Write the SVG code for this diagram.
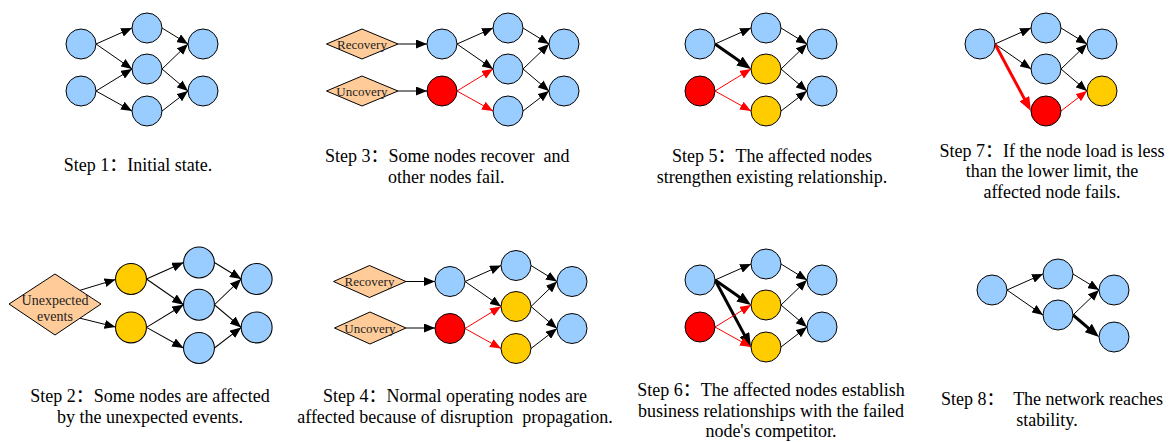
<svg xmlns="http://www.w3.org/2000/svg" width="1172" height="442" viewBox="0 0 1172 442">
<defs>
<style>
.b{fill:#99CCFF;stroke:#000;stroke-width:1}
.y{fill:#FFCC00;stroke:#000;stroke-width:1}
.r{fill:#FF0000;stroke:#000;stroke-width:1}
.d{fill:#FFCC99;stroke:#000;stroke-width:1}
.e{stroke:#000;stroke-width:1;fill:none;marker-end:url(#ah)}
.er{stroke:#FF0000;stroke-width:1;fill:none;marker-end:url(#ahr)}
.et{stroke:#000;stroke-width:3;fill:none;marker-end:url(#aht)}
.etr{stroke:#FF0000;stroke-width:3;fill:none;marker-end:url(#ahtr)}
.cap{font-family:'Liberation Serif','Times New Roman',Tinos,'Noto Serif','DejaVu Serif',serif;font-size:18px;fill:#000;white-space:pre}
.mid{text-anchor:middle}
.cj{font-family:'Noto Sans CJK SC','Noto Sans CJK JP',sans-serif}
.dl{font-family:'Liberation Serif','Times New Roman',Tinos,'Noto Serif','DejaVu Serif',serif;font-size:13px;fill:#222;text-anchor:middle}
</style>
<marker id="ah" viewBox="0 0 11 9" refX="11" refY="4.5" markerWidth="11" markerHeight="9" markerUnits="userSpaceOnUse" orient="auto"><path d="M0,0L11,4.5L0,9z" fill="#000"/></marker>
<marker id="ahr" viewBox="0 0 11 9" refX="11" refY="4.5" markerWidth="11" markerHeight="9" markerUnits="userSpaceOnUse" orient="auto"><path d="M0,0L11,4.5L0,9z" fill="#FF0000"/></marker>
<marker id="aht" viewBox="0 0 14 11" refX="9" refY="5.5" markerWidth="14" markerHeight="11" markerUnits="userSpaceOnUse" orient="auto"><path d="M0,0L14,5.5L0,11z" fill="#000"/></marker>
<marker id="ahtr" viewBox="0 0 14 11" refX="9" refY="5.5" markerWidth="14" markerHeight="11" markerUnits="userSpaceOnUse" orient="auto"><path d="M0,0L14,5.5L0,11z" fill="#FF0000"/></marker>
</defs>
<rect width="1172" height="442" fill="#fff"/>

<g id="connectors">
 <g id="c-step1" transform="translate(81,44)">
  <path class="e" d="M15,0L51,-16"/><path class="e" d="M15,0L51,25"/>
  <path class="e" d="M15,47L51,25"/><path class="e" d="M15,47L51,67"/>
  <path class="e" d="M81,-16L107,0"/><path class="e" d="M81,25L107,0"/>
  <path class="e" d="M81,25L107,47"/><path class="e" d="M81,67L107,47"/>
 </g>
 <g id="c-step3">
  <path class="e" d="M398,44L427,44"/><path class="e" d="M398,91L427,91"/>
  <g transform="translate(442,44)">
  <path class="e" d="M15,0L51,-16"/><path class="e" d="M15,0L51,25"/>
  <path class="er" d="M15,47L51,25"/><path class="er" d="M15,47L51,67"/>
  <path class="e" d="M81,-16L107,0"/><path class="e" d="M81,25L107,0"/>
  <path class="e" d="M81,25L107,47"/><path class="e" d="M81,67L107,47"/>
  </g>
 </g>
 <g id="c-step5" transform="translate(700,44)">
  <path class="e" d="M15,0L51,-16"/><path class="et" d="M15,0L46.9,22.15"/>
  <path class="er" d="M15,47L51,25"/><path class="er" d="M15,47L51,67"/>
  <path class="e" d="M81,-16L107,0"/><path class="e" d="M81,25L107,0"/>
  <path class="e" d="M81,25L107,47"/><path class="e" d="M81,67L107,47"/>
 </g>
 <g id="c-step7" transform="translate(980,44)">
  <path class="e" d="M15,0L51,-16"/><path class="e" d="M15,0L51,25"/>
  <path class="etr" d="M15,0L48.6,62.6"/>
  <path class="e" d="M81,-16L107,0"/><path class="e" d="M81,25L107,0"/>
  <path class="e" d="M81,25L107,47"/><path class="er" d="M81,67L107,47"/>
 </g>
 <g id="c-step2">
  <path class="e" d="M80,290.3L115.5,279.5"/><path class="e" d="M80,318.2L115.5,327"/>
  <g transform="translate(131,279) scale(1.03)">
  <path class="e" d="M15,0L51,-16"/><path class="e" d="M15,0L51,25"/>
  <path class="e" d="M15,47L51,25"/><path class="e" d="M15,47L51,67"/>
  <path class="e" d="M81,-16L107,0"/><path class="e" d="M81,25L107,0"/>
  <path class="e" d="M81,25L107,47"/><path class="e" d="M81,67L107,47"/>
  </g>
 </g>
 <g id="c-step4">
  <path class="e" d="M406,281.5L435,281.5"/><path class="e" d="M406,328L435,328"/>
  <g transform="translate(450,281.5)">
  <path class="e" d="M15,0L51,-16"/><path class="e" d="M15,0L51,25"/>
  <path class="er" d="M15,47L51,25"/><path class="er" d="M15,47L51,67"/>
  <path class="e" d="M81,-16L107,0"/><path class="e" d="M81,25L107,0"/>
  <path class="e" d="M81,25L107,47"/><path class="e" d="M81,67L107,47"/>
  </g>
 </g>
 <g id="c-step6" transform="translate(700,280)">
  <path class="e" d="M15,0L51,-16"/><path class="et" d="M15,0L46.9,22.15"/>
  <path class="et" d="M15,0L48.6,62.6"/>
  <path class="er" d="M15,47L51,25"/><path class="er" d="M15,47L51,67"/>
  <path class="e" d="M81,-16L107,0"/><path class="e" d="M81,25L107,0"/>
  <path class="e" d="M81,25L107,47"/><path class="e" d="M81,67L107,47"/>
 </g>
 <g id="c-step8" transform="translate(992,290)">
  <path class="e" d="M15,0L51,-16"/><path class="e" d="M15,0L51,25"/>
  <path class="e" d="M81,-16L107,0"/><path class="e" d="M81,25L107,0"/>
  <path class="et" d="M81,25L103.2,43.8"/>
 </g>
</g>

<g id="step1-nodes" transform="translate(81,44)">
 <g id="s1-a"><circle class="b" cx="0" cy="0" r="15"/></g>
 <g id="s1-b"><circle class="b" cx="0" cy="47" r="15"/></g>
 <g id="s1-c"><circle class="b" cx="66" cy="-16" r="15"/></g>
 <g id="s1-d"><circle class="b" cx="66" cy="25" r="15"/></g>
 <g id="s1-e"><circle class="b" cx="66" cy="67" r="15"/></g>
 <g id="s1-f"><circle class="b" cx="122" cy="0" r="15"/></g>
 <g id="s1-g"><circle class="b" cx="122" cy="47" r="15"/></g>
</g>

<g id="step3-nodes">
 <g id="s3-recovery"><polygon class="d" points="326.5,44 362,29 398,44 362,59"/><text class="dl" x="362" y="48.5">Recovery</text></g>
 <g id="s3-uncovery"><polygon class="d" points="326.5,91 362,76 398,91 362,106"/><text class="dl" x="362" y="95.5">Uncovery</text></g>
 <g transform="translate(442,44)">
 <g id="s3-a"><circle class="b" cx="0" cy="0" r="15"/></g>
 <g id="s3-b"><circle class="r" cx="0" cy="47" r="15"/></g>
 <g id="s3-c"><circle class="b" cx="66" cy="-16" r="15"/></g>
 <g id="s3-d"><circle class="b" cx="66" cy="25" r="15"/></g>
 <g id="s3-e"><circle class="b" cx="66" cy="67" r="15"/></g>
 <g id="s3-f"><circle class="b" cx="122" cy="0" r="15"/></g>
 <g id="s3-g"><circle class="b" cx="122" cy="47" r="15"/></g>
 </g>
</g>

<g id="step5-nodes" transform="translate(700,44)">
 <g id="s5-a"><circle class="b" cx="0" cy="0" r="15"/></g>
 <g id="s5-b"><circle class="r" cx="0" cy="47" r="15"/></g>
 <g id="s5-c"><circle class="b" cx="66" cy="-16" r="15"/></g>
 <g id="s5-d"><circle class="y" cx="66" cy="25" r="15"/></g>
 <g id="s5-e"><circle class="y" cx="66" cy="67" r="15"/></g>
 <g id="s5-f"><circle class="b" cx="122" cy="0" r="15"/></g>
 <g id="s5-g"><circle class="b" cx="122" cy="47" r="15"/></g>
</g>

<g id="step7-nodes" transform="translate(980,44)">
 <g id="s7-a"><circle class="b" cx="0" cy="0" r="15"/></g>
 <g id="s7-c"><circle class="b" cx="66" cy="-16" r="15"/></g>
 <g id="s7-d"><circle class="b" cx="66" cy="25" r="15"/></g>
 <g id="s7-e"><circle class="r" cx="66" cy="67" r="15"/></g>
 <g id="s7-f"><circle class="b" cx="122" cy="0" r="15"/></g>
 <g id="s7-g"><circle class="y" cx="122" cy="47" r="15"/></g>
</g>

<g id="step2-nodes">
 <g id="s2-events"><polygon class="d" points="9,304 55,274 101,304 55,335"/><text class="dl" style="font-size:14px" x="55" y="305">Unexpected</text><text class="dl" style="font-size:14px" x="55" y="321">events</text></g>
 <g transform="translate(131,279) scale(1.03)">
 <g id="s2-a"><circle class="y" cx="0" cy="0" r="15"/></g>
 <g id="s2-b"><circle class="y" cx="0" cy="47" r="15"/></g>
 <g id="s2-c"><circle class="b" cx="66" cy="-16" r="15"/></g>
 <g id="s2-d"><circle class="b" cx="66" cy="25" r="15"/></g>
 <g id="s2-e"><circle class="b" cx="66" cy="67" r="15"/></g>
 <g id="s2-f"><circle class="b" cx="122" cy="0" r="15"/></g>
 <g id="s2-g"><circle class="b" cx="122" cy="47" r="15"/></g>
 </g>
</g>

<g id="step4-nodes">
 <g id="s4-recovery"><polygon class="d" points="333.5,281.5 369.5,265.5 406,281.5 369.5,297.5"/><text class="dl" x="369.5" y="286">Recovery</text></g>
 <g id="s4-uncovery"><polygon class="d" points="334.5,328 370,312 406,328 370,344"/><text class="dl" x="370" y="332.5">Uncovery</text></g>
 <g transform="translate(450,281.5)">
 <g id="s4-a"><circle class="b" cx="0" cy="0" r="15"/></g>
 <g id="s4-b"><circle class="r" cx="0" cy="47" r="15"/></g>
 <g id="s4-c"><circle class="b" cx="66" cy="-16" r="15"/></g>
 <g id="s4-d"><circle class="y" cx="66" cy="25" r="15"/></g>
 <g id="s4-e"><circle class="y" cx="66" cy="67" r="15"/></g>
 <g id="s4-f"><circle class="b" cx="122" cy="0" r="15"/></g>
 <g id="s4-g"><circle class="b" cx="122" cy="47" r="15"/></g>
 </g>
</g>

<g id="step6-nodes" transform="translate(700,280)">
 <g id="s6-a"><circle class="b" cx="0" cy="0" r="15"/></g>
 <g id="s6-b"><circle class="r" cx="0" cy="47" r="15"/></g>
 <g id="s6-c"><circle class="b" cx="66" cy="-16" r="15"/></g>
 <g id="s6-d"><circle class="y" cx="66" cy="25" r="15"/></g>
 <g id="s6-e"><circle class="y" cx="66" cy="67" r="15"/></g>
 <g id="s6-f"><circle class="b" cx="122" cy="0" r="15"/></g>
 <g id="s6-g"><circle class="b" cx="122" cy="47" r="15"/></g>
</g>

<g id="step8-nodes" transform="translate(992,290)">
 <g id="s8-a"><circle class="b" cx="0" cy="0" r="15"/></g>
 <g id="s8-c"><circle class="b" cx="66" cy="-16" r="15"/></g>
 <g id="s8-d"><circle class="b" cx="66" cy="25" r="15"/></g>
 <g id="s8-f"><circle class="b" cx="122" cy="0" r="15"/></g>
 <g id="s8-g"><circle class="b" cx="122" cy="47" r="15"/></g>
</g>

<g id="captions">
 <text class="cap mid" x="138" y="171">Step 1<tspan class="cj">：</tspan>Initial state.</text>
 <text class="cap" x="325" y="162">Step 3<tspan class="cj">：</tspan>Some nodes recover  and</text>
 <text class="cap" x="388" y="183">other nodes fail.</text>
 <text class="cap mid" x="772" y="162">Step 5<tspan class="cj">：</tspan>The affected nodes</text>
 <text class="cap mid" x="772" y="183">strengthen existing relationship.</text>
 <text class="cap mid" x="1052" y="157">Step 7<tspan class="cj">：</tspan>If the node load is less</text>
 <text class="cap mid" x="1052" y="177">than the lower limit, the</text>
 <text class="cap mid" x="1052" y="198">affected node fails.</text>
 <text class="cap mid" x="150" y="402">Step 2<tspan class="cj">：</tspan>Some nodes are affected</text>
 <text class="cap mid" x="150" y="423">by the unexpected events.</text>
 <text class="cap mid" x="455" y="402">Step 4<tspan class="cj">：</tspan>Normal operating nodes are</text>
 <text class="cap mid" x="455" y="423">affected because of disruption  propagation.</text>
 <text class="cap mid" x="771" y="396">Step 6<tspan class="cj">：</tspan>The affected nodes establish</text>
 <text class="cap mid" x="771" y="416.5">business relationships with the failed</text>
 <text class="cap mid" x="771" y="437">node's competitor.</text>
 <text class="cap mid" x="1052" y="405">Step 8<tspan class="cj">：</tspan>  The network reaches</text>
 <text class="cap mid" x="1047" y="426">stability.</text>
</g>
</svg>
